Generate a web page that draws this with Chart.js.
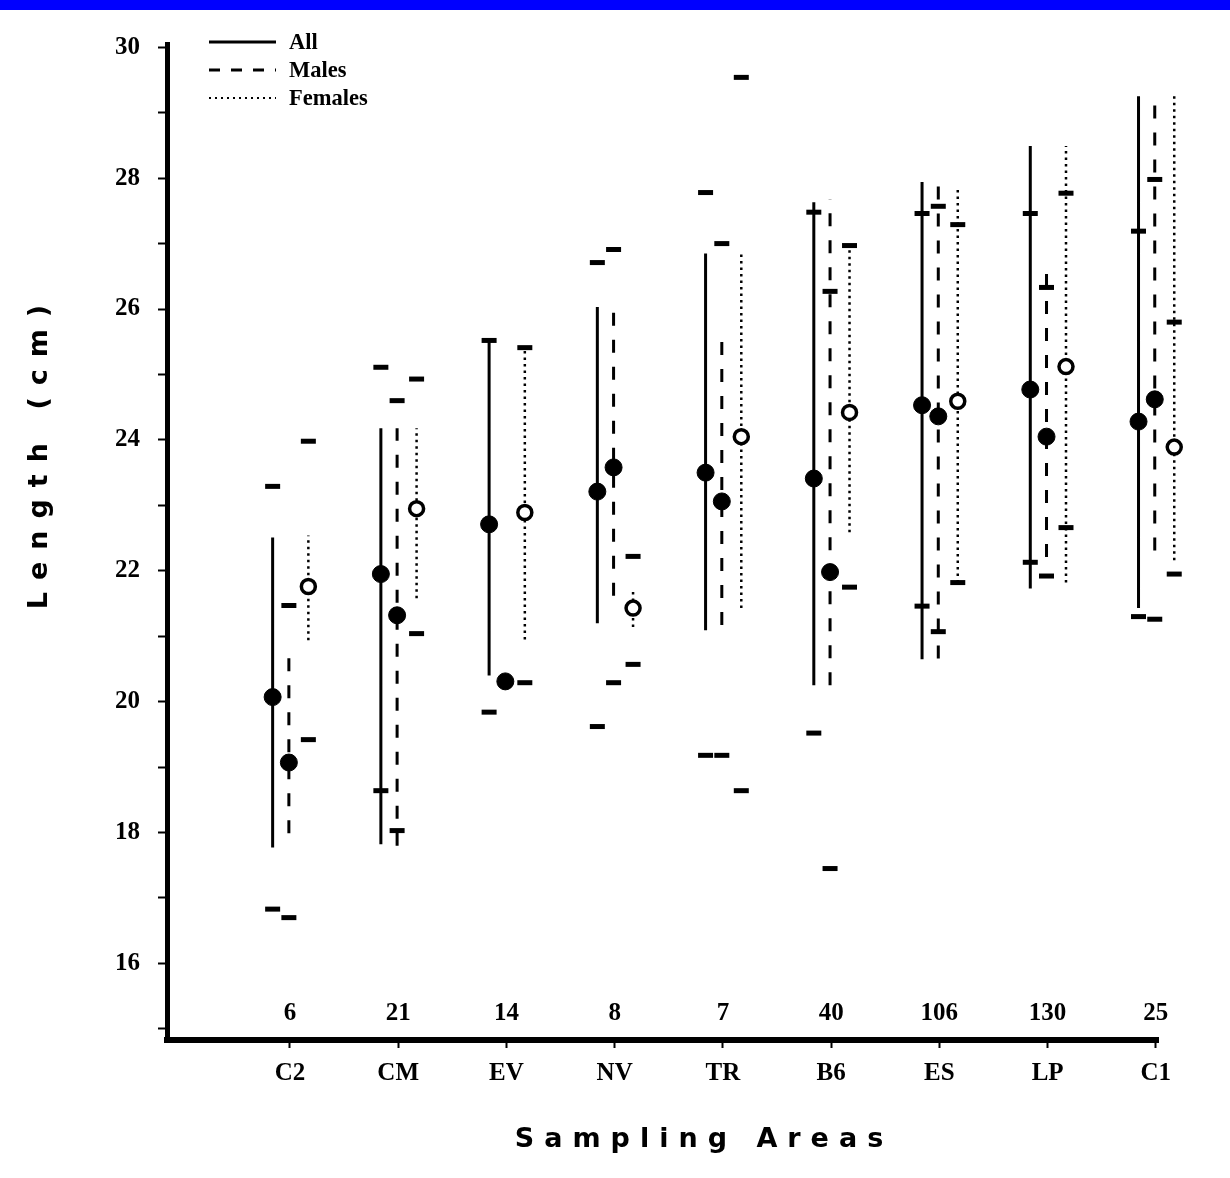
<!DOCTYPE html>
<html>
<head>
<meta charset="utf-8">
<script src="https://cdn.jsdelivr.net/npm/chart.js@4.4.1/dist/chart.umd.min.js"></script>
<style>
  html, body { margin: 0; padding: 0; background: #fff; }
  #band { position: absolute; left: 0; top: 0; width: 1230px; height: 10px; background: #0000ff; }
  #chart { position: absolute; left: 0; top: 0; }
</style>
</head>
<body>
<canvas id="chart" width="1230" height="1178"></canvas>
<div id="band"></div>
<script>
// sampling areas and sample sizes
const areas = ["C2", "CM", "EV", "NV", "TR", "B6", "ES", "LP", "C1"];
const sample_sizes = [6, 21, 14, 8, 7, 40, 106, 130, 25];

// All fish: mean, range line (low/high), extreme marks (min/max)
const all_mean = [20.07, 21.95, 22.71, 23.21, 23.50, 23.41, 24.53, 24.77, 24.28];
const all_low  = [17.77, 17.82, 20.40, 21.20, 21.09, 20.25, 20.65, 21.73, 21.43];
const all_high = [22.51, 24.18, 25.52, 26.03, 26.85, 27.63, 27.94, 28.49, 29.25];
const all_min  = [16.83, 18.64, 19.84, 19.62, 19.18, 19.52, 21.46, 22.13, 21.30];
const all_max  = [23.29, 25.11, 25.52, 26.71, 27.78, 27.48, 27.46, 27.46, 27.19];

// Males
const male_mean = [19.07, 21.32, 20.31, 23.58, 23.06, 21.98, 24.36, 24.05, 24.62];
const male_low  = [17.99, 17.80, null, 21.62, 21.17, 20.25, 20.66, 22.21, 22.31];
const male_high = [20.71, 24.18, null, 26.03, 25.58, 27.68, 27.94, 26.65, 29.24];
const male_min  = [16.70, 18.03, null, 20.29, 19.18, 17.45, 21.07, 21.92, 21.26];
const male_max  = [21.47, 24.60, null, 26.91, 27.00, 26.27, 27.57, 26.33, 27.98];

// Females
const female_mean = [21.76, 22.95, 22.89, 21.43, 24.05, 24.42, 24.59, 25.12, 23.89];
const female_low  = [20.94, 21.58, 20.95, 21.14, 21.43, 22.59, 21.82, 21.82, 22.16];
const female_high = [22.54, 24.18, 25.41, 21.70, 26.85, 26.97, 27.86, 28.49, 29.25];
const female_min  = [19.42, 21.04, 20.29, 20.57, 18.64, 21.75, 21.82, 22.66, 21.95];
const female_max  = [23.98, 24.93, 25.41, 22.22, 29.54, 26.97, 27.29, 27.77, 25.80];

const y_ticks = [15, 16, 17, 18, 19, 20, 21, 22, 23, 24, 25, 26, 27, 28, 29, 30];

const off_all = -0.16;
const off_male = -0.01;
const off_female = 0.17;

const serif = "'Liberation Serif', 'Times New Roman', serif";
const sans = "'DejaVu Sans', 'Liberation Sans', sans-serif";

// points go from the last area to the first, so the C1 marks past the
// axis end are not trimmed away as "outside" by the line controller
function rangePoints (low, high, offset) {
  let pts = [];
  for (let i = areas.length - 1; i >= 0; i--) {
    if (low[i] == null) continue;
    pts.push({x: i + offset, y: low[i]});
    pts.push({x: i + offset, y: high[i]});
    pts.push({x: i + offset, y: null});
  }
  return pts;
}

function markPoints (values, offset) {
  let pts = [];
  for (let i = areas.length - 1; i >= 0; i--) {
    if (values[i] == null) continue;
    pts.push({x: i + offset, y: values[i]});
  }
  return pts;
}

function rangeSet (low, high, offset, dash, width) {
  return {
    data: rangePoints(low, high, offset),
    showLine: true,
    spanGaps: false,
    borderColor: "#000",
    borderWidth: width,
    borderDash: dash,
    pointRadius: 0,
    clip: false,
    order: 3
  };
}

function extremeSet (mins, maxs, offset) {
  return {
    data: markPoints(mins, offset).concat(markPoints(maxs, offset)),
    pointStyle: "line",
    pointRadius: 7.5,
    pointBorderWidth: 5,
    pointBorderColor: "#000",
    clip: false,
    order: 2
  };
}

function meanSet (values, offset, open) {
  return {
    data: markPoints(values, offset),
    pointStyle: "circle",
    pointRadius: open ? 7 : 8.5,
    pointBorderWidth: open ? 3.5 : 1,
    pointBorderColor: "#000",
    pointBackgroundColor: open ? "#fff" : "#000",
    clip: false,
    order: 1
  };
}

let saved_right = 0;

const extras = {
  id: "extras",
  // let the marks of the last group reach past the end of the x axis
  beforeDatasetsDraw (chart) {
    saved_right = chart.chartArea.right;
    chart.chartArea.right = saved_right + 40;
  },
  afterDatasetsDraw (chart) {
    chart.chartArea.right = saved_right;
  },
  afterDraw (chart) {
    const ctx = chart.ctx;
    const xs = chart.scales.x;
    ctx.save();

    // sample sizes above the x axis
    ctx.fillStyle = "#000";
    ctx.font = "bold 25px " + serif;
    ctx.textAlign = "center";
    ctx.textBaseline = "middle";
    for (let i = 0; i < areas.length; i++) {
      ctx.fillText(String(sample_sizes[i]), xs.getPixelForValue(i), 1014);
    }

    // legend
    const legend = [["All", []], ["Males", [11, 11]], ["Females", [2, 4]]];
    ctx.textAlign = "left";
    ctx.font = "bold 22.5px " + serif;
    for (let k = 0; k < legend.length; k++) {
      let y = 42 + k * 28;
      ctx.beginPath();
      ctx.setLineDash(legend[k][1]);
      ctx.lineWidth = k == 2 ? 2 : 3;
      ctx.strokeStyle = "#000";
      ctx.moveTo(209, y);
      ctx.lineTo(276, y);
      ctx.stroke();
      ctx.setLineDash([]);
      ctx.fillText(legend[k][0], 289, y + 1);
    }

    // axis titles, letter spaced
    ctx.font = "bold 27px " + sans;
    ctx.letterSpacing = "10px";
    ctx.textAlign = "center";
    ctx.fillText("Sampling Areas", 704, 1140);
    ctx.translate(40, 451);
    ctx.rotate(-Math.PI / 2);
    ctx.letterSpacing = "12px";
    ctx.fillText("Length (cm)", 0, 0);
    ctx.restore();
  }
};

new Chart(document.getElementById("chart"), {
  type: "scatter",
  data: {
    datasets: [
      meanSet(all_mean, off_all, false),
      meanSet(male_mean, off_male, false),
      meanSet(female_mean, off_female, true),
      extremeSet(all_min, all_max, off_all),
      extremeSet(male_min, male_max, off_male),
      extremeSet(female_min, female_max, off_female),
      rangeSet(all_low, all_high, off_all, [], 3),
      rangeSet(male_low, male_high, off_male, [13, 14], 3),
      rangeSet(female_low, female_high, off_female, [2.5, 4], 2.5)
    ]
  },
  plugins: [extras],
  options: {
    responsive: false,
    animation: false,
    events: [],
    layout: {
      padding: {top: 44, right: 72, left: 0, bottom: 0}
    },
    plugins: {
      legend: {display: false},
      tooltip: {enabled: false}
    },
    scales: {
      x: {
        type: "linear",
        min: -1.136,
        max: 8.02,
        afterBuildTicks: function (scale) {
          scale.ticks = areas.map(function (a, i) { return {value: i}; });
        },
        afterFit: function (scale) { scale.height = 138; },
        ticks: {
          autoSkip: false,
          maxRotation: 0,
          padding: 11,
          color: "#000",
          font: {family: serif, size: 25, weight: "bold"},
          callback: function (v) { return areas[v]; }
        },
        grid: {drawOnChartArea: false, tickLength: 8, tickWidth: 2, tickColor: "#000"},
        border: {color: "#000", width: 6}
      },
      y: {
        type: "linear",
        min: 14.83,
        max: 30.05,
        afterBuildTicks: function (scale) {
          scale.ticks = y_ticks.map(function (v) { return {value: v}; });
        },
        afterFit: function (scale) { scale.width = 167; },
        ticks: {
          padding: 18,
          color: "#000",
          font: {family: serif, size: 25, weight: "bold"},
          callback: function (v) { return v % 2 === 0 ? String(v) : ""; }
        },
        grid: {drawOnChartArea: false, tickLength: 9, tickWidth: 2, tickColor: "#000"},
        border: {color: "#000", width: 5}
      }
    }
  }
});
</script>
</body>
</html>
